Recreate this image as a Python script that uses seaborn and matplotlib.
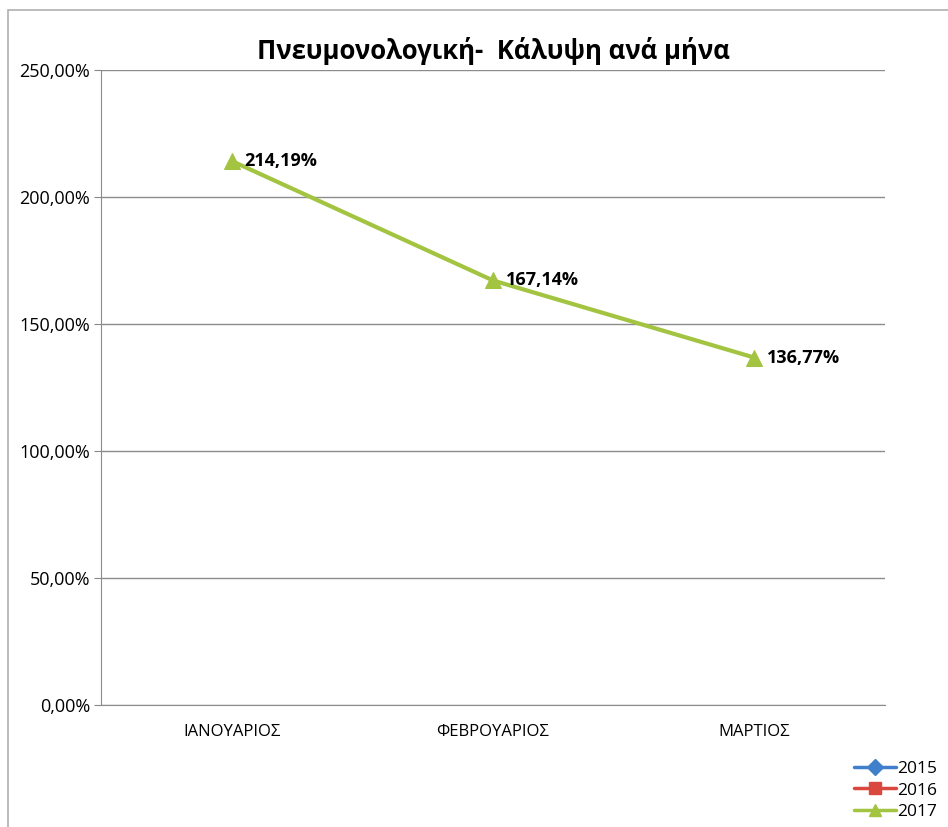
import numpy as np
import pandas as pd
import matplotlib
matplotlib.use("Agg")
import matplotlib.pyplot as plt
from matplotlib.lines import Line2D
from matplotlib.patches import Rectangle
import seaborn as sns

months = ['ΙΑΝΟΥΑΡΙΟΣ', 'ΦΕΒΡΟΥΑΡΙΟΣ', 'ΜΑΡΤΙΟΣ']
values_2017 = [214.19, 167.14, 136.77]
years = ['2015', '2016', '2017']
year_colors = ['#3f7fcc', '#d9473f', '#a2c440']
year_markers = ['D', 's', '^']

sns.set_style("white")
plt.rcParams['font.family'] = ['Open Sans', 'DejaVu Sans']
plt.rcParams['text.color'] = 'black'
plt.rcParams['xtick.color'] = 'black'
plt.rcParams['ytick.color'] = 'black'

df = pd.DataFrame({'month': months, 'pos': np.arange(len(months)), 'value': values_2017})

fig = plt.figure(figsize=(9.48, 8.27), dpi=100)
ax = fig.add_axes([101 / 948, 1 - 705 / 827, 784 / 948, 635 / 827])

# outer chart frame
fig.patches.append(Rectangle((8 / 948, -0.01), 1.0, 1 - 10 / 827 + 0.01,
                             transform=fig.transFigure, fill=False,
                             edgecolor='#b0b0b0', lw=1.2))

sns.lineplot(data=df, x='pos', y='value', ax=ax, color=year_colors[2],
             lw=3, marker='^', markersize=11, markeredgecolor=year_colors[2])

for x, y in zip(df['pos'], df['value']):
    ax.annotate('{:.2f}%'.format(y).replace('.', ','), xy=(x, y),
                xytext=(9, 0), textcoords='offset points',
                ha='left', va='center', fontsize=13, fontweight='bold')

ax.set_xlim(-0.5, len(months) - 0.5)
ax.set_ylim(0, 250)
ax.set_yticks(np.arange(0, 251, 50))
ax.set_yticklabels(['{:.2f}%'.format(v).replace('.', ',') for v in np.arange(0, 251, 50)],
                   fontsize=13)
ax.set_xticks(np.arange(len(months)))
ax.set_xticklabels(months, fontsize=12)
ax.tick_params(axis='x', length=0, pad=14)
ax.set_xticks(np.arange(-0.5, len(months), 1), minor=True)
ax.tick_params(axis='x', which='minor', length=5, color='#888888', direction='out')
ax.tick_params(axis='y', length=5, color='#888888', labelcolor='black',
               direction='out', pad=3, left=True)
ax.tick_params(axis='x', labelcolor='black')
ax.grid(axis='y', color='#8c8c8c', lw=1)
ax.set_xlabel('')
ax.set_ylabel('')
for s in ['top', 'right']:
    ax.spines[s].set_visible(False)
ax.spines['left'].set_color('#8c8c8c')
ax.spines['bottom'].set_color('#8c8c8c')

fig.text(493 / 948, 1 - 51 / 827, 'Πνευμονολογική-  Κάλυψη ανά μήνα',
         ha='center', va='center', fontsize=18.5, fontweight='bold')

handles = [Line2D([], [], color=c, marker=m, lw=2.5, markersize=8)
           for c, m in zip(year_colors, year_markers)]
fig.legend(handles, years, loc='lower right', bbox_to_anchor=(948 / 948, -0.004),
           frameon=False, fontsize=12.5, handlelength=2.4, handletextpad=0.1,
           labelspacing=0.3, borderaxespad=0.2)

plt.savefig('out.png', dpi=100)
